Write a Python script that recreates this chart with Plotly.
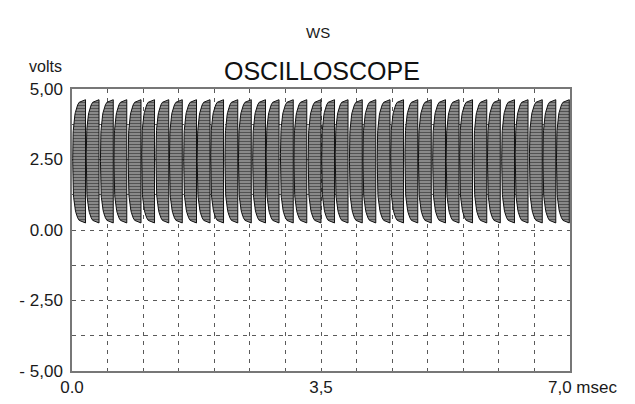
import plotly.graph_objects as go

# ---- data ----
pulse_start_ms = [0.01, 0.20, 0.40, 0.59, 0.79, 0.98, 1.18, 1.37, 1.57, 1.76,
                  1.95, 2.15, 2.34, 2.54, 2.73, 2.93, 3.12, 3.32, 3.51, 3.70,
                  3.90, 4.09, 4.29, 4.48, 4.68, 4.87, 5.07, 5.26, 5.45, 5.65,
                  5.84, 6.04, 6.23, 6.43, 6.62, 6.81]
pulse_end_ms = [s + 0.18 for s in pulse_start_ms]
pulse_high_v = [4.62] * len(pulse_start_ms)
pulse_low_v = [0.25] * len(pulse_start_ms)

x_tickvals = [0.0, 0.5, 1.0, 1.5, 2.0, 2.5, 3.0, 3.5, 4.0, 4.5, 5.0, 5.5, 6.0, 6.5, 7.0]
x_ticktext = ["0.0", "", "", "", "", "", "", "3,5", "", "", "", "", "", "", ""]
x_last_label = "7,0 msec"
y_tickvals = [-5.0, -3.75, -2.5, -1.25, 0.0, 1.25, 2.5, 3.75, 5.0]
y_ticktext = ["- 5,00", "", "- 2,50", "", "0.00", "", "2.50", "", "5,00"]

# ---- build pulse outlines (left edge rounded, right edge straight) ----
N = 48
xs, ys = [], []
for s, e, hi, lo in zip(pulse_start_ms, pulse_end_ms, pulse_high_v, pulse_low_v):
    mid = (hi + lo) / 2
    half = (hi - lo) / 2
    w = e - s
    xs.append(e); ys.append(hi)
    for i in range(N + 1):
        u = 1 - 2 * i / N
        off = w * (1 - (1 - abs(u) ** 3) ** (1 / 3))
        xs.append(s + off); ys.append(mid + half * u)
    xs.append(e); ys.append(lo)
    xs.append(e); ys.append(hi)
    xs.append(None); ys.append(None)

fig = go.Figure()
fig.add_trace(go.Scatter(
    x=xs, y=ys, mode="lines", fill="toself",
    line=dict(color="#111111", width=1),
    fillcolor="#8c8c8c",
    fillpattern=dict(shape="-", size=3, solidity=0.4, fgcolor="#151515", bgcolor="#8e8e8e"),
    hoverinfo="skip", showlegend=False,
))

font_family = "Liberation Sans, Arial, sans-serif"
L, R, T, B = 72, 65, 89, 33
PW, PH = 635 - L - R, 404 - T - B


def px(x):
    return (x - L) / PW


def py(y):
    return (404 - B - y) / PH


fig.update_layout(
    width=635, height=404,
    margin=dict(l=L, r=R, t=T, b=B),
    paper_bgcolor="white", plot_bgcolor="white",
    font=dict(family=font_family, color="#1a1a1a", size=17),
    xaxis=dict(range=[0, 7], tickvals=x_tickvals, ticktext=x_ticktext,
               showgrid=True, gridcolor="#5a5a5a", griddash="4px,5px", gridwidth=1,
               zeroline=False, showline=True, linecolor="#777777", linewidth=1.5,
               mirror=True, ticks="", tickfont=dict(size=17), ticklabelstandoff=0,
               automargin=False),
    yaxis=dict(range=[-5, 5], tickvals=y_tickvals, ticktext=y_ticktext,
               showgrid=True, gridcolor="#5a5a5a", griddash="4px,5px", gridwidth=1,
               zeroline=False, showline=True, linecolor="#777777", linewidth=1.5,
               mirror=True, ticks="", tickfont=dict(size=17), ticklabelstandoff=4,
               automargin=False),
    annotations=[
        dict(text="WS", x=px(318), y=py(33), xref="paper", yref="paper",
             showarrow=False, font=dict(size=15), xanchor="center", yanchor="middle"),
        dict(text="OSCILLOSCOPE", x=px(322), y=py(71), xref="paper", yref="paper",
             showarrow=False, font=dict(size=25, color="#111111"), xanchor="center", yanchor="middle"),
        dict(text="volts", x=px(45), y=py(66), xref="paper", yref="paper",
             showarrow=False, font=dict(size=16), xanchor="center", yanchor="middle"),
        dict(text=x_last_label, x=px(546), y=py(387), xref="paper", yref="paper",
             showarrow=False, font=dict(size=17), xanchor="left", yanchor="middle"),
    ],
)

fig.write_html("out.html")
